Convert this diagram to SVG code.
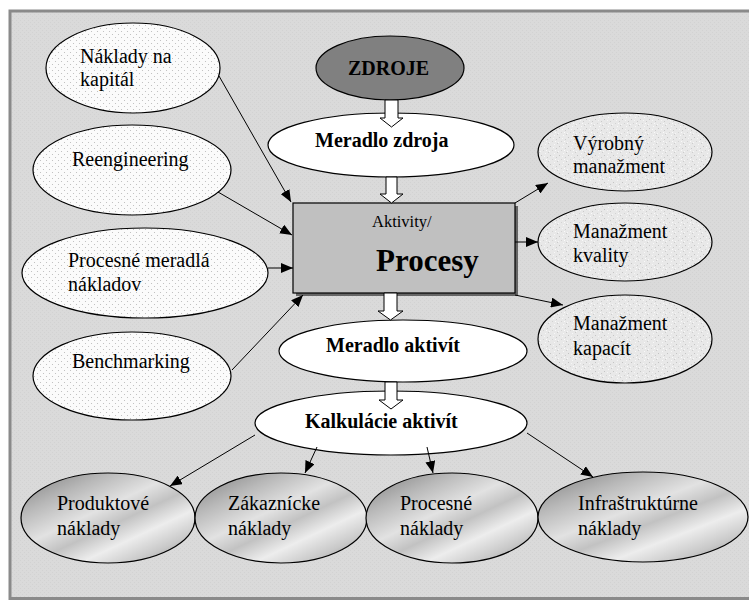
<svg xmlns="http://www.w3.org/2000/svg" width="749" height="601" viewBox="0 0 749 601">
  <style>
    text { font-family: "Liberation Serif", "DejaVu Serif", serif; font-size: 20px; fill: #000; }
    .b { font-weight: bold; }
    .small { font-size: 16.5px; }
    .big { font-size: 31px; font-weight: bold; }
    .node { stroke: #000; stroke-width: 1.2; }
    .link { stroke: #000; stroke-width: 1; fill: none; marker-end: url(#tip); }
    .hollow { fill: #fff; stroke: #000; stroke-width: 1; }
  </style>
  <defs>
    <!-- filled triangular arrowhead for thin connectors -->
    <marker id="tip" viewBox="0 0 12 10" refX="12" refY="5" markerWidth="12" markerHeight="10" markerUnits="userSpaceOnUse" orient="auto">
      <path d="M0,0 L12,5 L0,10 z" fill="#000"/>
    </marker>
    <!-- dotted fill for the input ellipses -->
    <pattern id="dots" width="6" height="6" patternUnits="userSpaceOnUse">
      <rect width="6" height="6" fill="#fbfbfb"/>
      <circle cx="1.5" cy="1.5" r="0.55" fill="#b8b8b8"/>
      <circle cx="4.5" cy="4.5" r="0.55" fill="#b8b8b8"/>
    </pattern>
    <!-- speckled fill for the management ellipses -->
    <pattern id="granite" width="9" height="9" patternUnits="userSpaceOnUse">
      <rect width="9" height="9" fill="#e8e8e8"/>
      <rect x="1" y="2" width="1" height="1" fill="#c4c4c4"/>
      <rect x="5" y="0" width="1" height="1" fill="#f8f8f8"/>
      <rect x="7" y="4" width="1" height="1" fill="#cacaca"/>
      <rect x="3" y="6" width="1" height="1" fill="#d2d2d2"/>
      <rect x="0" y="7" width="1" height="1" fill="#f6f6f6"/>
      <rect x="4" y="3" width="1" height="1" fill="#f5f5f5"/>
      <rect x="8" y="8" width="1" height="1" fill="#cccccc"/>
      <rect x="6" y="6" width="1" height="1" fill="#fafafa"/>
    </pattern>
    <!-- diagonal metallic shading for the cost ellipses -->
    <linearGradient id="metal" x1="0" y1="0" x2="0.9" y2="1">
      <stop offset="0" stop-color="#7c7c7c"/>
      <stop offset="0.25" stop-color="#b8b8b8"/>
      <stop offset="0.45" stop-color="#e2e2e2"/>
      <stop offset="0.58" stop-color="#c2c2c2"/>
      <stop offset="0.72" stop-color="#ededed"/>
      <stop offset="0.87" stop-color="#c8c8c8"/>
      <stop offset="1" stop-color="#909090"/>
    </linearGradient>
    <pattern id="panelTex" width="4" height="4" patternUnits="userSpaceOnUse">
      <rect width="4" height="4" fill="#dadada"/>
      <rect x="0" y="0" width="1" height="1" fill="#d2d2d2"/>
      <rect x="2" y="2" width="1" height="1" fill="#d2d2d2"/>
    </pattern>
  </defs>

  <rect width="749" height="601" fill="#fff"/>
  <!-- background panel -->
  <rect x="10" y="11" width="760" height="587.5" fill="url(#panelTex)" stroke="#8a8a8a" stroke-width="3"/>

  <!-- resource chain -->
  <g id="zdroje">
    <ellipse class="node" cx="390" cy="68" rx="74" ry="32" fill="#808080"/>
    <text class="b" x="348" y="75">ZDROJE</text>
  </g>
  <g id="meradlo-zdroja">
    <ellipse class="node" cx="391" cy="145" rx="123" ry="32" fill="#fff"/>
    <text class="b" x="315" y="147">Meradlo zdroja</text>
  </g>
  <g id="procesy">
    <rect x="296" y="206" width="222" height="90" fill="#666"/>
    <rect class="node" x="293" y="203" width="222" height="90" fill="#c0c0c0"/>
    <text class="small" x="372" y="227">Aktivity/</text>
    <text class="big" x="376" y="271">Procesy</text>
  </g>
  <g id="meradlo-aktivit">
    <ellipse class="node" cx="403" cy="351" rx="124" ry="31" fill="#fff"/>
    <text class="b" x="326" y="352">Meradlo aktivít</text>
  </g>
  <g id="kalkulacie-aktivit">
    <ellipse class="node" cx="391" cy="423" rx="136" ry="32" fill="#fff"/>
    <text class="b" x="305" y="428">Kalkulácie aktivít</text>
  </g>

  <!-- inputs -->
  <g id="naklady-na-kapital">
    <ellipse class="node" cx="133" cy="68" rx="87" ry="45" fill="url(#dots)"/>
    <text x="80" y="63">Náklady na</text>
    <text x="80" y="86">kapitál</text>
  </g>
  <g id="reengineering">
    <ellipse class="node" cx="132" cy="170" rx="99" ry="45" fill="url(#dots)"/>
    <text x="72" y="166">Reengineering</text>
  </g>
  <g id="procesne-meradla">
    <ellipse class="node" cx="145" cy="273" rx="123" ry="45" fill="url(#dots)"/>
    <text x="68" y="267">Procesné meradlá</text>
    <text x="68" y="291">nákladov</text>
  </g>
  <g id="benchmarking">
    <ellipse class="node" cx="132" cy="376" rx="99" ry="44" fill="url(#dots)"/>
    <text x="72" y="368">Benchmarking</text>
  </g>

  <!-- management outputs -->
  <g id="vyrobny-manazment">
    <ellipse class="node" cx="625" cy="152" rx="87" ry="39" fill="url(#granite)"/>
    <text x="573" y="150">Výrobný</text>
    <text x="573" y="173">manažment</text>
  </g>
  <g id="manazment-kvality">
    <ellipse class="node" cx="625" cy="242" rx="87" ry="39" fill="url(#granite)"/>
    <text x="573" y="238">Manažment</text>
    <text x="573" y="262">kvality</text>
  </g>
  <g id="manazment-kapacit">
    <ellipse class="node" cx="625" cy="339" rx="87" ry="44" fill="url(#granite)"/>
    <text x="573" y="330">Manažment</text>
    <text x="573" y="355">kapacít</text>
  </g>

  <!-- cost objects -->
  <g id="produktove-naklady">
    <ellipse class="node" cx="108" cy="518" rx="87" ry="45" fill="url(#metal)"/>
    <text x="57" y="510">Produktové</text>
    <text x="57" y="535">náklady</text>
  </g>
  <g id="zakaznicke-naklady">
    <ellipse class="node" cx="281" cy="518" rx="86" ry="45" fill="url(#metal)"/>
    <text x="228" y="510">Zákaznícke</text>
    <text x="228" y="535">náklady</text>
  </g>
  <g id="procesne-naklady">
    <ellipse class="node" cx="452" cy="518" rx="86" ry="45" fill="url(#metal)"/>
    <text x="400" y="510">Procesné</text>
    <text x="400" y="535">náklady</text>
  </g>
  <g id="infrastrukturne-naklady">
    <ellipse class="node" cx="643" cy="517" rx="105" ry="45" fill="url(#metal)"/>
    <text x="578" y="510">Infraštruktúrne</text>
    <text x="578" y="535">náklady</text>
  </g>

  <!-- connectors -->
  <g id="connectors">
    <path class="hollow" d="M385,100 H398 V118 H403 L391.5,127 L380,118 H385 Z"/>
    <path class="hollow" d="M386,177 H397 V194 H403 L391.5,203 L380,194 H386 Z"/>
    <path class="hollow" d="M384,293 H397 V311 H403 L390.5,320 L378,311 H384 Z"/>
    <path class="hollow" d="M385,382 H397 V400 H403 L391,409 L379,400 H385 Z"/>

    <line class="link" x1="219" y1="76" x2="291" y2="202"/>
    <line class="link" x1="218" y1="192" x2="292" y2="235"/>
    <line class="link" x1="268" y1="268" x2="293" y2="268"/>
    <line class="link" x1="232" y1="370" x2="303" y2="295"/>
    <line class="link" x1="515" y1="203" x2="548" y2="183"/>
    <line class="link" x1="515" y1="242" x2="538" y2="242"/>
    <line class="link" x1="515" y1="295" x2="563" y2="305"/>
    <line class="link" x1="255" y1="435" x2="170" y2="486"/>
    <line class="link" x1="317" y1="447" x2="305" y2="473"/>
    <line class="link" x1="427" y1="447" x2="433" y2="473"/>
    <line class="link" x1="527" y1="433" x2="593" y2="477"/>
  </g>
</svg>
